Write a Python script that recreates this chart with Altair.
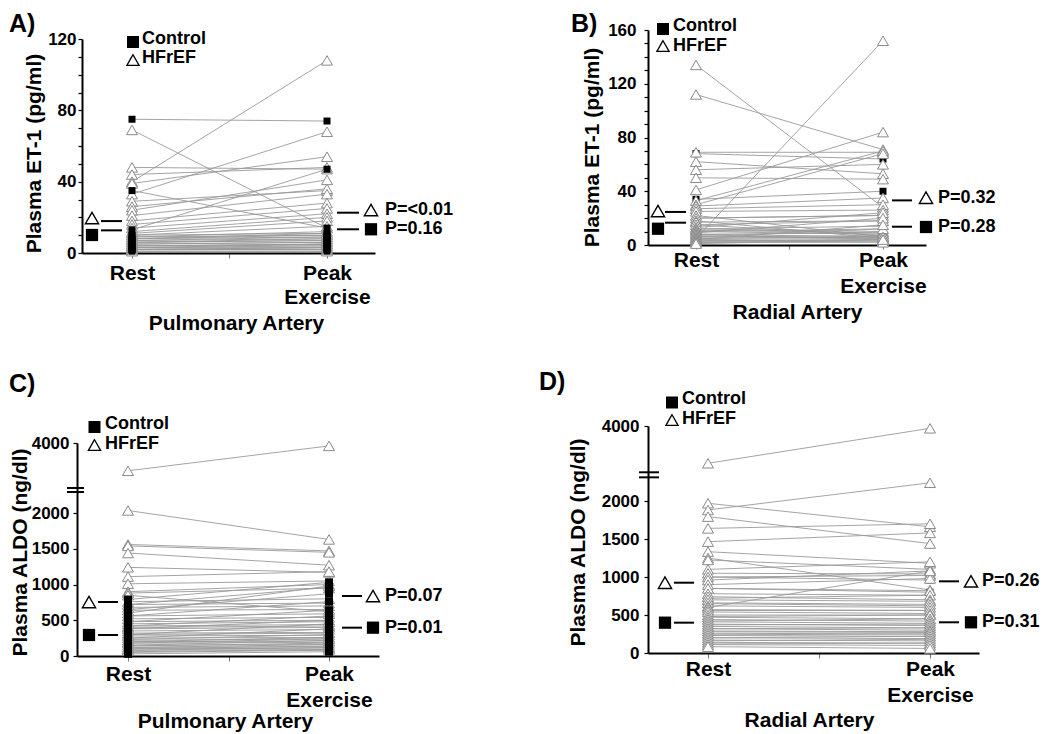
import altair as alt
import pandas as pd

FONT = "Liberation Sans"
LINE_GREY = "#9a9a9a"
TRI_GREY = "#8a8a8a"

# ---------------- data ----------------
# A) Plasma ET-1 (pg/ml), pulmonary artery
a_hf_rest = [69, 48, 44, 40, 39, 33, 29, 26, 24, 21, 18, 16, 14, 12, 11, 10, 9, 8, 8, 7, 6, 6, 5, 4, 4, 3, 3, 2, 2, 1]
a_hf_peak = [14, 47, 48, 108, 54, 68, 35, 36, 41, 33, 28, 25, 22, 20, 18, 15, 12, 10, 11, 9, 8, 7, 6, 5, 4, 5, 3, 3, 2, 1]
a_ct_rest = [75, 35, 13, 10, 9, 8, 7, 6, 5, 4, 3, 2, 2, 1]
a_ct_peak = [74, 14, 47, 11, 10, 9, 8, 7, 6, 5, 4, 3, 2, 1]
a_mean_rest = [17.9, 12.7]      # HFrEF, Control
a_mean_peak = [22.6, 13.3]
a_mark_rest = [19.6, 10.1]
a_mark_peak = [24.1, 13.3]
a_pvals = ["P=<0.01", "P=0.16"]

# B) Plasma ET-1 (pg/ml), radial artery
b_hf_rest = [134, 112, 69, 62, 56, 50, 41, 33, 30, 29, 27, 25, 22, 20, 18, 17, 15, 13, 12, 11, 10, 9, 8, 7, 6, 5, 5, 4, 3, 2, 3, 2, 1]
b_hf_peak = [28, 71, 69, 53, 60, 49, 84, 70, 68, 35, 30, 26, 6, 22, 5, 18, 7, 24, 10, 9, 8, 20, 6, 5, 12, 152, 6, 15, 4, 3, 3, 2, 4]
b_ct_rest = [68, 34, 20, 15, 12, 10, 8, 6, 5, 4, 3]
b_ct_peak = [64, 40, 22, 18, 14, 12, 9, 7, 6, 5, 4]
b_mean_rest = [24.6, 16.6]
b_mean_peak = [33.2, 13.6]
b_mark_rest = [25.3, 12.1]
b_mark_peak = [35.2, 13.4]
b_pvals = ["P=0.32", "P=0.28"]

# C) Plasma ALDO (ng/dl), pulmonary artery
c_hf_rest = [2950, 2030, 1560, 1540, 1440, 1240, 1110, 1010, 900, 880, 850, 760, 720, 680, 640, 600, 560, 520, 480,
             450, 420, 400, 380, 350, 320, 300, 280, 250, 220, 200, 180, 150, 120, 100, 80]
c_hf_peak = [3890, 1630, 1470, 1450, 1270, 1170, 1180, 1050, 1000, 950, 620, 800, 740, 700, 650, 980, 590, 540, 500,
             480, 440, 420, 400, 370, 330, 320, 290, 260, 240, 210, 190, 160, 130, 110, 90]
c_ct_rest = [790, 720, 650, 560, 480, 420, 380, 300, 250, 230, 200, 180, 150, 140, 120, 100, 80, 60, 50, 30]
c_ct_peak = [1030, 960, 870, 760, 640, 560, 500, 450, 380, 300, 260, 240, 220, 180, 160, 140, 120, 90, 80, 60]
c_mean_rest = [755, 294]
c_mean_peak = [839, 396]
c_mark_rest = [755, 294]
c_mark_peak = [839, 396]
c_pvals = ["P=0.07", "P=0.01"]

# D) Plasma ALDO (ng/dl), radial artery
d_hf_rest = [2706, 1970, 1882, 1794, 1640, 1465, 1333, 1250, 1224, 1100, 1049, 1000, 960, 900, 850, 780, 740, 700, 660,
             620, 600, 570, 540, 500, 470, 440, 410, 380, 350, 320, 290, 260, 230, 200, 170, 140, 110, 83]
d_hf_peak = [3920, 1660, 2210, 1440, 1700, 1580, 1180, 830, 1100, 1200, 1040, 1020, 1080, 980, 820, 760, 700, 680, 640,
             600, 1080, 560, 520, 500, 450, 420, 390, 360, 330, 300, 280, 250, 220, 190, 160, 130, 100, 60]
d_ct_rest = [1000, 850, 720, 650, 560, 480, 420, 370, 320, 280, 240, 200, 160, 120]
d_ct_peak = [960, 800, 760, 620, 560, 500, 450, 380, 330, 270, 250, 220, 180, 130]
d_mean_rest = [925, 399]
d_mean_peak = [943, 404]
d_mark_rest = [925, 399]
d_mark_peak = [943, 404]
d_pvals = ["P=0.26", "P=0.31"]

ALDO_TICKS = [0, 500, 1000, 1500, 2000, 4000]


def tidy(hf_rest, hf_peak, ct_rest, ct_peak):
    rows = []
    for grp, rest, peak in (("HFrEF", hf_rest, hf_peak), ("Control", ct_rest, ct_peak)):
        for i, (r, p) in enumerate(zip(rest, peak)):
            rows.append({"id": f"{grp}{i}", "grp": grp, "t": 1, "v": r})
            rows.append({"id": f"{grp}{i}", "grp": grp, "t": 2, "v": p})
    return pd.DataFrame(rows)


def panel(d, L):
    df = tidy(d["hf_rest"], d["hf_peak"], d["ct_rest"], d["ct_peak"])
    span = L["peak"] - L["rest"]

    def U(px):
        return 1 + (px - L["rest"]) / span

    xs = alt.Scale(domain=[U(L["ax_l"]), U(L["ax_r"])], range=[L["ax_l"], L["ax_r"]], nice=False, zero=False)
    ys = alt.Scale(domain=L["ydom"], range=L["yrange"], nice=False, zero=False)
    xaxis = alt.Axis(
        values=[1, 1.5, 2],
        labelExpr="datum.value == 1 ? 'Rest' : (datum.value == 2 ? ['Peak', 'Exercise'] : '')",
        labelFont=FONT, labelFontSize=21, labelFontWeight="bold", labelColor="black",
        labelPadding=L["xlabpad"], labelLineHeight=L["xlh"], labelFlush=False, labelOverlap=False,
        tickSize=L["xtick"], tickColor="#777777", tickWidth=1,
        domainColor="black", domainWidth=2, grid=False,
        title=L["xtitle"], titleFont=FONT, titleFontSize=21, titleFontWeight="bold", titleColor="black",
        titleX=L["xtitle_x"], titleY=L["xtitle_y"], titleBaseline="top", titleAlign="center",
    )
    yaxis = alt.Axis(
        values=L["yticks"], labelExpr=L["ylabexpr"], format="d",
        labelFont=FONT, labelFontSize=17, labelFontWeight="bold", labelColor="black",
        labelPadding=L["ylabpad"], labelFlush=False, labelOverlap=False, labelBaseline="middle",
        tickSize=4, tickColor="black", tickWidth=1.2,
        domainColor="black", domainWidth=2, grid=False, offset=L["yoff"],
        title=L["ytitle"], titleFont=FONT, titleFontSize=21, titleFontWeight="bold", titleColor="black",
        titleX=L["ytitle_x"], titleY=L["ytitle_y"], titleAngle=270, titleAlign="center", titleBaseline="middle",
    )
    X = alt.X("t:Q", scale=xs, axis=xaxis)
    Y = alt.Y("v:Q", scale=ys, axis=yaxis)

    lines = alt.Chart(df).mark_line(color=LINE_GREY, strokeWidth=0.9).encode(x=X, y=Y, detail="id:N")
    hf = alt.Chart(df).transform_filter("datum.grp == 'HFrEF'").mark_point(
        shape="triangle-up", size=120, filled=True, fill="white", stroke=TRI_GREY, strokeWidth=1, opacity=1
    ).encode(x=X, y=Y)
    ct = alt.Chart(df).transform_filter("datum.grp == 'Control'").mark_square(
        size=L["sq_size"], color="black", opacity=1
    ).encode(x=X, y=Y)
    pts = [ct, hf] if L["tri_top"] else [hf, ct]

    mlines = pd.DataFrame({
        "t": [U(L["ml"][0])] * 2 + [U(L["mr"][0])] * 2,
        "t2": [U(L["ml"][1])] * 2 + [U(L["mr"][1])] * 2,
        "v": d["mean_rest"] + d["mean_peak"],
    })
    rules = alt.Chart(mlines).mark_rule(color="black", strokeWidth=2).encode(x=X, x2="t2:Q", y=Y)

    mk = pd.DataFrame({
        "t": [U(L["mkl"]), U(L["mkl"]), U(L["mkr"]), U(L["mkr"])],
        "v": [d["mark_rest"][0], d["mark_rest"][1], d["mark_peak"][0], d["mark_peak"][1]],
        "grp": ["HFrEF", "Control", "HFrEF", "Control"],
    })
    mtri = alt.Chart(mk).transform_filter("datum.grp == 'HFrEF'").mark_point(
        shape="triangle-up", size=175, filled=True, fill="white", stroke="black", strokeWidth=1.4, opacity=1
    ).encode(x=X, y=Y)
    msq = alt.Chart(mk).transform_filter("datum.grp == 'Control'").mark_square(
        size=150, color="black", opacity=1
    ).encode(x=X, y=Y)

    ptab = pd.DataFrame({"t": [U(L["tx"])] * 2, "v": d["mark_peak"], "txt": d["pvals"]})
    ptxt = alt.Chart(ptab).mark_text(
        align="left", baseline="middle", font=FONT, fontSize=18, fontWeight="bold", color="black"
    ).encode(x=X, y=Y, text="txt:N")

    one = pd.DataFrame({"k": [0]})
    leg_sq = alt.Chart(one).mark_square(size=144, color="black", opacity=1).encode(
        x=alt.value(L["leg_x"]), y=alt.value(L["leg_sq_y"]))
    leg_tri = alt.Chart(one).mark_point(
        shape="triangle-up", size=150, filled=True, fill="white", stroke="black", strokeWidth=1.3, opacity=1
    ).encode(x=alt.value(L["leg_x"]), y=alt.value(L["leg_tri_y"]))
    leg_t1 = alt.Chart(one).mark_text(
        text="Control", align="left", baseline="middle", font=FONT, fontSize=18, fontWeight="bold", color="black"
    ).encode(x=alt.value(L["leg_tx"]), y=alt.value(L["leg_cy"]))
    leg_t2 = alt.Chart(one).mark_text(
        text="HFrEF", align="left", baseline="middle", font=FONT, fontSize=18, fontWeight="bold", color="black"
    ).encode(x=alt.value(L["leg_tx"]), y=alt.value(L["leg_hy"]))
    lab = alt.Chart(one).mark_text(
        text=L["label"], align="left", baseline="alphabetic", font=FONT, fontSize=25, fontWeight="bold", color="black"
    ).encode(x=alt.value(L["lab_x"]), y=alt.value(L["lab_y"]))

    layers = [lines] + pts + [rules, mtri, msq, ptxt, leg_sq, leg_tri, leg_t1, leg_t2, lab]
    if L.get("brk"):
        bdf = pd.DataFrame({"v": L["brk"]})
        layers.append(alt.Chart(bdf).mark_rule(color="black", strokeWidth=2).encode(
            x=alt.value(L["brk_x"][0]), x2=alt.value(L["brk_x"][1]), y=Y))
    return alt.layer(*layers).properties(width=L["W"], height=L["H"])


ET_EXPR = "datum.value % 40 === 0 ? datum.label : ''"

LA = dict(W=431, H=223, yoff=-5, ax_l=5, ax_r=298, rest=55, peak=250,
          ydom=[0, 120], yrange=[223, 9], yticks=list(range(0, 121, 10)), ylabexpr=ET_EXPR, ylabpad=2,
          ytitle="Plasma ET-1 (pg/ml)", ytitle_x=-48, ytitle_y=123,
          xtitle="Pulmonary Artery", xtitle_x=159, xtitle_y=59.5, xlabpad=4, xtick=5, xlh=24,
          label="A)", lab_x=-68, lab_y=2,
          leg_x=56, leg_sq_y=12, leg_tri_y=30, leg_tx=65, leg_cy=9, leg_hy=28,
          ml=(24, 45), mkl=15, mr=(260, 282), mkr=294, tx=308, sq_size=49, tri_top=False)
LB = dict(W=350, H=215, yoff=0, ax_l=0, ax_r=278, rest=48, peak=235,
          ydom=[0, 160], yrange=[215, 0], yticks=list(range(0, 161, 10)), ylabexpr=ET_EXPR, ylabpad=8,
          ytitle="Plasma ET-1 (pg/ml)", ytitle_x=-56, ytitle_y=117,
          xtitle="Radial Artery", xtitle_x=149, xtitle_y=56.5, xlabpad=0, xtick=4, xlh=26,
          label="B)", lab_x=-77, lab_y=2,
          leg_x=15, leg_sq_y=-1, leg_tri_y=16, leg_tx=25, leg_cy=-4, leg_hy=16,
          ml=(17, 38), mkl=10, mr=(244, 264), mkr=278, tx=290, sq_size=49, tri_top=True)
LC = dict(W=471, H=230, yoff=0, ax_l=0, ax_r=302, rest=51, peak=252,
          ydom=[0, 2000, 2300, 4000], yrange=[230, 87, 62, 17], yticks=ALDO_TICKS, ylabexpr="datum.label",
          ylabpad=4,
          ytitle="Plasma ALDO (ng/dl)", ytitle_x=-57, ytitle_y=126,
          xtitle="Pulmonary Artery", xtitle_x=148, xtitle_y=54, xlabpad=2, xtick=5, xlh=26,
          label="C)", lab_x=-68, lab_y=-34,
          leg_x=17.5, leg_sq_y=1, leg_tri_y=19, leg_tx=28, leg_cy=-2.5, leg_hy=17.5,
          ml=(21, 41), mkl=12, mr=(265, 285), mkr=296, tx=308, sq_size=64, tri_top=False,
          brk=[2252, 2300], brk_x=(-10, 7))
LD = dict(W=393, H=227, yoff=0, ax_l=0, ax_r=331, rest=60, peak=282,
          ydom=[0, 2000, 2300, 4000], yrange=[227, 75, 49, 0], yticks=ALDO_TICKS, ylabexpr="datum.label",
          ylabpad=5,
          ytitle="Plasma ALDO (ng/dl)", ytitle_x=-70, ytitle_y=116,
          xtitle="Radial Artery", xtitle_x=161, xtitle_y=56, xlabpad=0, xtick=5, xlh=26,
          label="D)", lab_x=-109, lab_y=-36,
          leg_x=24, leg_sq_y=-23.5, leg_tri_y=-6, leg_tx=34, leg_cy=-27.5, leg_hy=-7.5,
          ml=(26, 46), mkl=17, mr=(291, 311), mkr=323, tx=334, sq_size=49, tri_top=True,
          brk=[2273, 2394], brk_x=(-9, 11))

DA = dict(hf_rest=a_hf_rest, hf_peak=a_hf_peak, ct_rest=a_ct_rest, ct_peak=a_ct_peak,
          mean_rest=a_mean_rest, mean_peak=a_mean_peak, mark_rest=a_mark_rest, mark_peak=a_mark_peak, pvals=a_pvals)
DB = dict(hf_rest=b_hf_rest, hf_peak=b_hf_peak, ct_rest=b_ct_rest, ct_peak=b_ct_peak,
          mean_rest=b_mean_rest, mean_peak=b_mean_peak, mark_rest=b_mark_rest, mark_peak=b_mark_peak, pvals=b_pvals)
DC = dict(hf_rest=c_hf_rest, hf_peak=c_hf_peak, ct_rest=c_ct_rest, ct_peak=c_ct_peak,
          mean_rest=c_mean_rest, mean_peak=c_mean_peak, mark_rest=c_mark_rest, mark_peak=c_mark_peak, pvals=c_pvals)
DD = dict(hf_rest=d_hf_rest, hf_peak=d_hf_peak, ct_rest=d_ct_rest, ct_peak=d_ct_peak,
          mean_rest=d_mean_rest, mean_peak=d_mean_peak, mark_rest=d_mark_rest, mark_peak=d_mark_peak, pvals=d_pvals)

chart = alt.concat(
    panel(DA, LA), panel(DB, LB), panel(DC, LC), panel(DD, LD),
    columns=2, spacing={"row": 173, "column": 100}, bounds="flush", align="none",
).properties(padding={"top": 3, "left": 0, "right": 0, "bottom": 0}).configure_view(stroke="transparent")

chart.save("out.html", embed_options={"renderer": "svg", "actions": False})
